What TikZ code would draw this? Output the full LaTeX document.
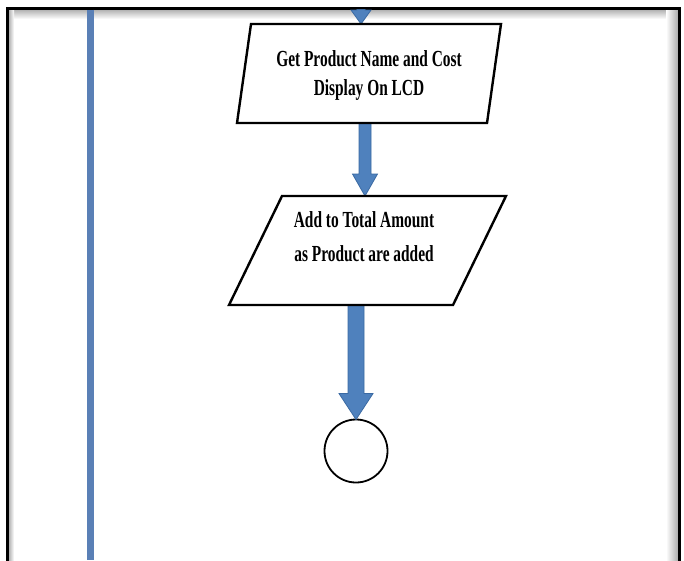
\documentclass[tikz,border=0pt]{standalone}
\usepackage{fontspec}
\setmainfont{Liberation Serif}
\usetikzlibrary{calc}
\definecolor{arrowblue}{HTML}{4F81BD}
\definecolor{arrowedge}{HTML}{3B6AA3}
\definecolor{lineblue}{HTML}{5A80B6}
\tikzset{
  shapebox/.style={draw=black, fill=white, line width=2.4pt, line join=miter},
  arrowbody/.style={fill=arrowblue, draw=arrowedge, line width=0.8pt, line join=miter},
  label1/.style={inner sep=0pt, font=\bfseries\fontsize{23}{29}\selectfont},
  label2/.style={inner sep=0pt, font=\bfseries\fontsize{23}{34}\selectfont},
}
% block arrow: from coordinate #1 to coordinate #2 (downwards), shaft half width #3, head half width #4, head length #5
\newcommand\blkarrow[5]{%
  \path[arrowbody] let \p1=(#1), \p2=(#2) in
    (\x2-#3,\y1) -- (\x2+#3,\y1) -- (\x2+#3,\y2+#5) -- (\x2+#4,\y2+#5) --
    (\x2,\y2) -- (\x2-#4,\y2+#5) -- (\x2-#3,\y2+#5) -- cycle;}
\begin{document}
\begin{tikzpicture}[x=1pt,y=-1pt]
\useasboundingbox (0,0) rectangle (684,560);
\fill[white] (0,0) rectangle (684,560);

% frame shadow
\shade[top color=gray!65, bottom color=white] (8,9) rectangle (678,19);
\shade[left color=white, right color=gray!65] (666,9) rectangle (678,560);
\shade[left color=gray!70, right color=white] (8,9) rectangle (14,560);
% frame
\draw[black, line width=3pt, line cap=rect] (7,560) -- (7,8) -- (679,8) -- (679,560);

% vertical blue line
\coordinate (vtop) at (90,9.5);
\coordinate (vbot) at (90,560);
\draw[lineblue, line width=7pt] (vtop) -- (vbot);

% coordinates
\coordinate (intop) at (361,9.5);
\coordinate (p1top) at (361,24);
\coordinate (p1bot) at (365,123);
\coordinate (p2top) at (365,196);
\coordinate (p2bot) at (356,305);

\node[circle, draw=black, fill=white, line width=1.8pt, minimum size=63pt, inner sep=0pt, outer sep=0pt] (finish) at (356,451) {};

% arrows
\blkarrow{intop}{p1top}{4pt}{10pt}{14pt}
\blkarrow{p1bot}{p2top}{6pt}{12.5pt}{22pt}
\blkarrow{p2bot}{finish.north}{8pt}{17pt}{26pt}

% parallelograms
\draw[shapebox] (251,24) -- (501,24) -- (487,123) -- (237,123) -- cycle;
\draw[shapebox] (282,196) -- (506,196) -- (453,305) -- (229,305) -- cycle;

% texts
\node[label1] (getprod) at (369,75.5) {\scalebox{0.67}[1]{\begin{tabular}{@{}c@{}}Get Product Name and Cost\\Display On LCD\end{tabular}}};
\node[label2] (addtotal) at (364,238) {\scalebox{0.67}[1]{\begin{tabular}{@{}c@{}}Add to Total Amount\\as Product are added\end{tabular}}};
\end{tikzpicture}
\end{document}
